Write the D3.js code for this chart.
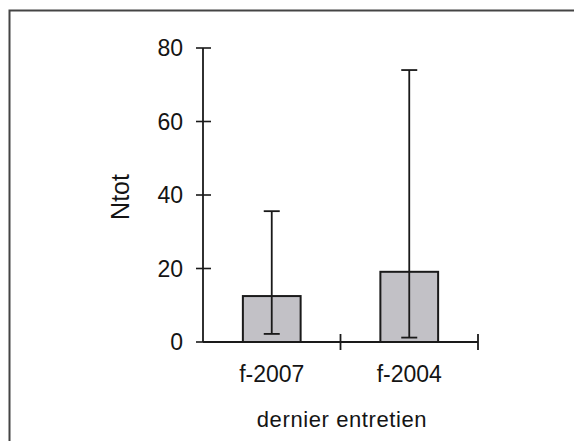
<!DOCTYPE html>
<html>
<head>
<meta charset="utf-8">
<script src="https://cdn.jsdelivr.net/npm/d3@7"></script>
<style>
	body { margin: 0; background: #fff; }
	svg { display: block; }
	text { font-family: "Liberation Sans", Arial, sans-serif; fill: #141414; }
</style>
</head>
<body>
<div id="chart"></div>
<script>
const categories = ["f-2007", "f-2004"];
const means = [12.5, 19.1];
const errLow = [2.2, 1.2];
const errHigh = [35.6, 74.0];
const yTicks = [0, 20, 40, 60, 80];

const width = 574;
const height = 441;

const svg = d3
	.select("#chart")
	.append("svg")
	.attr("width", width)
	.attr("height", height);

// outer frame (only top and left edges show)
svg
	.append("rect")
	.attr("x", 9.5)
	.attr("y", 10.5)
	.attr("width", 600)
	.attr("height", 500)
	.attr("fill", "none")
	.attr("stroke", "#444")
	.attr("stroke-width", 2);

const x = d3.scaleBand().domain(categories).range([203, 478]).padding(0);
const y = d3.scaleLinear().domain([0, 80]).range([342, 48]);

const barW = x.bandwidth() * 0.42;

// bars
svg
	.selectAll("rect.bar")
	.data(categories)
	.join("rect")
	.attr("class", "bar")
	.attr("x", d => x(d) + x.bandwidth() / 2 - barW / 2)
	.attr("y", (d, i) => y(means[i]))
	.attr("width", barW)
	.attr("height", (d, i) => y(0) - y(means[i]))
	.attr("fill", "#c2c1c6")
	.attr("stroke", "#1a1a1a")
	.attr("stroke-width", 2);

// error bars
const capW = 16;
const err = svg.append("g").attr("stroke", "#1a1a1a").attr("stroke-width", 1.8);
categories.forEach((c, i) => {
	const cx = x(c) + x.bandwidth() / 2;
	err.append("line").attr("x1", cx).attr("x2", cx).attr("y1", y(errLow[i])).attr("y2", y(errHigh[i]));
	err.append("line").attr("x1", cx - capW / 2).attr("x2", cx + capW / 2).attr("y1", y(errLow[i])).attr("y2", y(errLow[i]));
	err.append("line").attr("x1", cx - capW / 2).attr("x2", cx + capW / 2).attr("y1", y(errHigh[i])).attr("y2", y(errHigh[i]));
});

// y axis
const yAxis = svg.append("g").attr("transform", "translate(203,0)");
yAxis
	.append("line")
	.attr("y1", y(0))
	.attr("y2", y(80))
	.attr("stroke", "#1a1a1a")
	.attr("stroke-width", 1.8);
yAxis
	.selectAll("line.tick")
	.data(yTicks)
	.join("line")
	.attr("class", "tick")
	.attr("x1", -7)
	.attr("x2", 8)
	.attr("y1", d => y(d))
	.attr("y2", d => y(d))
	.attr("stroke", "#1a1a1a")
	.attr("stroke-width", 1.6);
yAxis
	.selectAll("text")
	.data(yTicks)
	.join("text")
	.attr("x", -20)
	.attr("y", d => y(d))
	.attr("dy", "0.36em")
	.attr("text-anchor", "end")
	.style("font-size", "23px")
	.text(d => d);

// x axis
const xAxis = svg.append("g").attr("transform", `translate(0,${y(0)})`);
xAxis
	.append("line")
	.attr("x1", 203)
	.attr("x2", 478)
	.attr("stroke", "#1a1a1a")
	.attr("stroke-width", 1.8);
const xTickPos = categories.map(c => x(c)).concat([x.range()[1]]);
xAxis
	.selectAll("line.tick")
	.data(xTickPos.slice(1))
	.join("line")
	.attr("class", "tick")
	.attr("x1", d => d)
	.attr("x2", d => d)
	.attr("y1", -8)
	.attr("y2", 8)
	.attr("stroke", "#1a1a1a")
	.attr("stroke-width", 1.8);
xAxis
	.selectAll("text")
	.data(categories)
	.join("text")
	.attr("x", d => x(d) + x.bandwidth() / 2)
	.attr("y", 40)
	.attr("text-anchor", "middle")
	.style("font-size", "23px")
	.text(d => d);

// axis titles
svg
	.append("text")
	.attr("transform", "translate(129,197) rotate(-90)")
	.attr("text-anchor", "middle")
	.style("font-size", "25px")
	.text("Ntot");

svg
	.append("text")
	.attr("x", 342)
	.attr("y", 427)
	.attr("text-anchor", "middle")
	.style("font-size", "22px")
	.style("letter-spacing", "0.6px")
	.text("dernier entretien");
</script>
</body>
</html>
